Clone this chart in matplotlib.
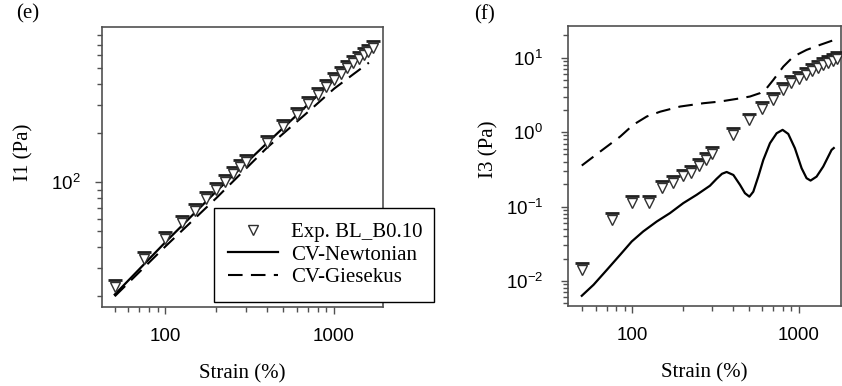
"""
I1 and I3 versus strain, two log-log panels
"""
import matplotlib
matplotlib.use("Agg")
import matplotlib.pyplot as plt
from matplotlib import ticker
from matplotlib.transforms import offset_copy

plt.rcParams["font.family"] = ["Liberation Serif", "DejaVu Serif"]
plt.rcParams["mathtext.fontset"] = "custom"
plt.rcParams["mathtext.rm"] = "Liberation Sans"
plt.rcParams["mathtext.default"] = "regular"
plt.rcParams["axes.unicode_minus"] = False

# strain values of the experiment (%)
strain = [50, 75, 100, 125, 150, 175, 200, 225, 250, 275, 300,
          400, 500, 600, 700, 800, 900, 1000, 1100, 1200, 1300, 1400, 1500, 1600, 1700]

# (e) I1 (Pa)
i1_exp = [22.7, 33.8, 44.7, 56.0, 67.0, 78.7, 89.7, 101, 112, 124, 133,
          175, 219, 259, 302, 343, 383, 424, 462, 500, 537, 568, 604, 633, 664]
i1_newt_x = [50, 100, 200, 400, 700, 1000, 1300, 1700]
i1_newt = [20.5, 43, 88, 174, 300, 425, 540, 675]
i1_gies_x = [50, 100, 200, 400, 700, 1000, 1300, 1610]
i1_gies = [20.0, 40.5, 80, 163, 270, 375, 460, 542]

# (f) I3 (Pa)
i3_exp = [0.0142, 0.066, 0.113, 0.113, 0.177, 0.21, 0.253, 0.28, 0.355, 0.423, 0.51,
          0.916, 1.43, 2.05, 2.70, 3.68, 4.53, 5.17, 5.86, 6.70, 7.35, 7.98, 8.57, 9.12, 9.5]
i3_newt_x = [49.6, 58.4, 70.2, 84.4, 99, 116, 140, 168, 202, 243, 292, 320, 345, 368,
             404, 443, 474, 504, 532, 570, 611, 670, 735, 798, 863, 946, 1038, 1112,
             1175, 1277, 1400, 1571, 1620]
i3_newt = [0.00632, 0.00889, 0.0141, 0.0225, 0.0339, 0.0462, 0.0629, 0.0815, 0.111,
           0.1435, 0.19, 0.235, 0.275, 0.291, 0.265, 0.195, 0.151, 0.1356, 0.158,
           0.252, 0.422, 0.708, 0.964, 1.07, 0.944, 0.607, 0.327, 0.240, 0.223,
           0.252, 0.344, 0.575, 0.61]
i3_gies_x = [49.6, 64, 84.4, 101, 122, 147, 193, 267, 336, 423, 508, 583, 640, 702,
             806, 925, 1112, 1337, 1585]
i3_gies = [0.355, 0.547, 0.87, 1.25, 1.62, 1.88, 2.20, 2.44, 2.57, 2.79, 3.0, 3.33,
           3.88, 5.02, 7.57, 10.3, 12.7, 14.8, 16.9]

grey = "#505050"

fig = plt.figure(figsize=(8.42, 3.86), dpi=100)
ax1 = fig.add_axes([0.1211, 0.2047, 0.3337, 0.7254])
ax2 = fig.add_axes([0.6746, 0.2073, 0.3242, 0.7254])


def draw(ax, y_exp, nx, ny, gx, gy):
    ax.plot(nx, ny, "-", color="black", lw=1.6, label="CV-Newtonian", zorder=2,
            solid_joinstyle="round")
    ax.plot(gx, gy, "--", color="black", lw=1.5, dashes=(7, 4), label="CV-Giesekus", zorder=2)
    up = offset_copy(ax.transData, fig=fig, y=5.0, units="points")
    ax.plot(strain, y_exp, "_", color="#202020", ms=10.5, mew=2.0, transform=up, zorder=3)
    ax.plot(strain, y_exp, "v", ms=7.5, mfc="white", mec="#303030", mew=1.0,
            ls="none", label="Exp. BL_B0.10", zorder=4)


draw(ax1, i1_exp, i1_newt_x, i1_newt, i1_gies_x, i1_gies)
draw(ax2, i3_exp, i3_newt_x, i3_newt, i3_gies_x, i3_gies)

for ax in (ax1, ax2):
    ax.set_xscale("log")
    ax.set_yscale("log")
    ax.xaxis.set_major_locator(ticker.FixedLocator([100, 1000]))
    ax.xaxis.set_major_formatter(ticker.FormatStrFormatter("%d"))
    ax.xaxis.set_minor_locator(ticker.LogLocator(base=10, subs=range(2, 10)))
    ax.xaxis.set_minor_formatter(ticker.NullFormatter())
    ax.yaxis.set_minor_formatter(ticker.NullFormatter())
    ax.tick_params(which="both", direction="out", color=grey, width=1.0,
                   labelsize=13.5, labelfontfamily="Liberation Sans")
    ax.tick_params(which="major", length=5)
    ax.tick_params(which="minor", length=3.5)
    ax.tick_params(axis="x", pad=10)
    for s in ax.spines.values():
        s.set_color(grey)
        s.set_linewidth(1.2)
    ax.set_xlabel("Strain (%)", fontsize=15, labelpad=14)

ax1.tick_params(axis="y", pad=10)
ax2.tick_params(axis="y", pad=13)

ax1.set_xlim(42, 1950)
ax1.set_ylim(17.2, 897)
ax2.set_xlim(41, 1790)
ax2.set_ylim(0.00461, 26.6)

ax1.set_ylabel("I1 (Pa)", fontsize=15)
ax1.yaxis.set_label_coords(-0.245, 0.552)
ax2.set_ylabel("I3 (Pa)", fontsize=15)
ax2.yaxis.set_label_coords(-0.256, 0.561)

fig.text(0.033, 0.963, "(e)", fontsize=15, ha="center", va="center")
fig.text(0.576, 0.963, "(f)", fontsize=15, ha="center", va="center")

h, l = ax1.get_legend_handles_labels()
order = [2, 0, 1]
leg = ax1.legend([h[i] for i in order], [l[i] for i in order],
                 loc="lower left", bbox_to_anchor=(0.254, 0.2176, 0.261, 0.246),
                 bbox_transform=fig.transFigure, mode="expand", fontsize=15,
                 frameon=True, fancybox=False, edgecolor="black", framealpha=1,
                 handlelength=2.4, handletextpad=0.6, labelspacing=0.15,
                 borderpad=0.7, borderaxespad=0)
leg.get_frame().set_linewidth(1.0)
leg.set_zorder(10)
leg.set_clip_on(False)

fig.savefig("out.png", dpi=100)
